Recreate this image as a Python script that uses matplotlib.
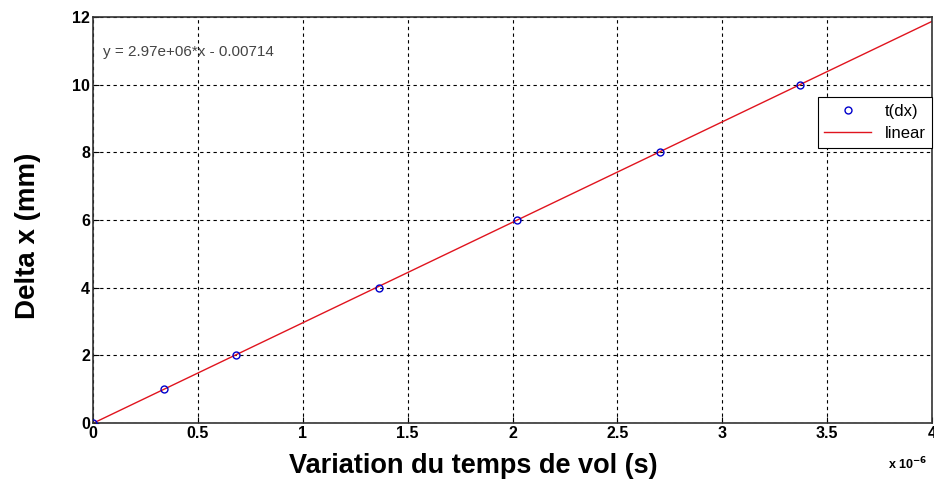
import numpy as np
import matplotlib
matplotlib.use("Agg")
from matplotlib import pyplot as plt

# temps de vol (s) et deplacement (mm)
dt = [0.0, 0.336e-6, 0.680e-6, 1.362e-6, 2.020e-6, 2.704e-6, 3.368e-6]
dx = [0, 1, 2, 4, 6, 8, 10]
pente = 2.97e6
origine = -0.00714
x_ticks = [0, 0.5e-6, 1e-6, 1.5e-6, 2e-6, 2.5e-6, 3e-6, 3.5e-6, 4e-6]
x_labels = ["0", "0.5", "1", "1.5", "2", "2.5", "3", "3.5", "4"]
y_ticks = [0, 2, 4, 6, 8, 10, 12]

plt.rcParams['font.family'] = ['Liberation Sans', 'DejaVu Sans']

fig = plt.figure(figsize=(9.34, 4.86), dpi=100)
ax = fig.add_axes([0.0996, 0.1296, 0.8984, 0.8354])

xs = np.array([0, 4e-6])
ax.plot(dt, dx, "o", color="#0000cc", markerfacecolor="none", markersize=5,
        markeredgewidth=1, label="t(dx)", zorder=3)
ax.plot(xs, pente * xs + origine, color="#e0141e", linewidth=1, label="linear")

ax.set_xlim(0, 4e-6)
ax.set_ylim(0, 12)
ax.set_xticks(x_ticks)
ax.set_xticklabels(x_labels)
ax.set_yticks(y_ticks)
ax.tick_params(direction="in", length=4, labelsize=11.5, pad=2)
for lab in ax.get_xticklabels() + ax.get_yticklabels():
    lab.set_fontweight("bold")
ax.grid(True, color="black", linestyle=(0, (3, 3)), linewidth=0.8)
for s in ax.spines.values():
    s.set_color("#333333")
    s.set_linewidth(1.2)

ax.set_xlabel("Variation du temps de vol (s)", fontsize=19.5, fontweight="bold")
ax.xaxis.set_label_coords(0.453, -0.075)
ax.set_ylabel("Delta x (mm)", fontsize=20, fontweight="bold")
ax.yaxis.set_label_coords(-0.062, 0.46)
fig.text(0.951, 0.035, r"x 10$^{\mathbf{-6}}$", fontsize=9, fontweight="bold", ha="left")

ax.text(0.012, 0.905, "y = 2.97e+06*x - 0.00714", transform=ax.transAxes,
        fontsize=11, color="#444444")

leg = ax.legend(loc="upper right", bbox_to_anchor=(1.0, 0.803), fontsize=12,
                fancybox=False, framealpha=1, edgecolor="black", borderpad=0.4,
                handlelength=2.8, labelspacing=0.45, borderaxespad=0)
leg.get_frame().set_linewidth(0.8)

fig.savefig("out.png", dpi=100)
